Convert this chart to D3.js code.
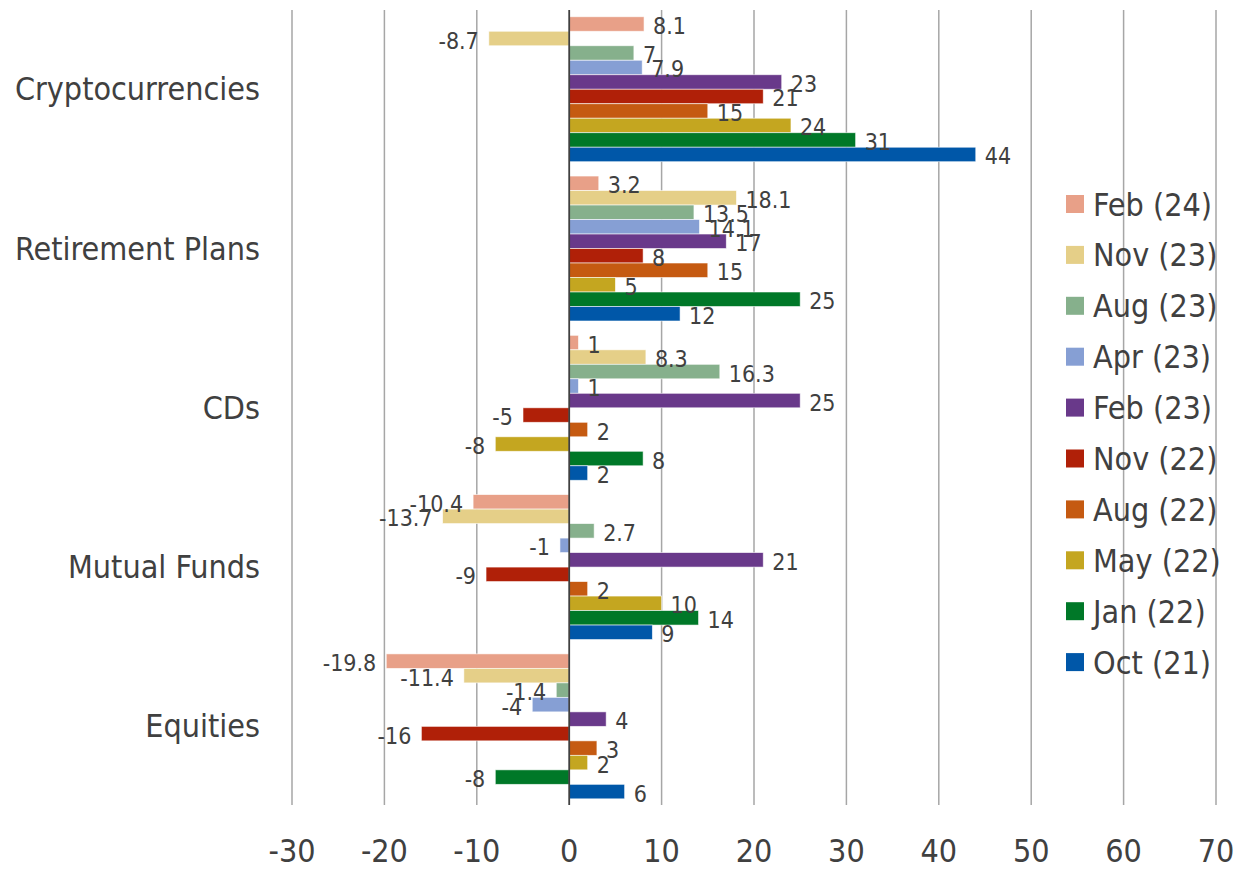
<!DOCTYPE html>
<html>
<head>
<meta charset="utf-8">
<script src="https://cdn.jsdelivr.net/npm/d3@7"></script>
<style>
  html, body { margin: 0; padding: 0; background: #fff; }
  svg text { font-family: "DejaVu Sans Condensed", "DejaVu Sans", sans-serif; font-stretch: condensed; fill: #404040; }
</style>
</head>
<body>
<svg id="chart" width="1240" height="869"></svg>
<script>
const categories = ["Cryptocurrencies", "Retirement Plans", "CDs", "Mutual Funds", "Equities"];
const seriesNames = ["Feb (24)", "Nov (23)", "Aug (23)", "Apr (23)", "Feb (23)", "Nov (22)", "Aug (22)", "May (22)", "Jan (22)", "Oct (21)"];
const seriesColors = ["#E8A088", "#E5CF88", "#86B08C", "#869FD4", "#69398A", "#B02008", "#C55A11", "#C4A620", "#007828", "#0057A8"];
// values per series, in category order
const feb24 = [8.1, 3.2, 1, -10.4, -19.8];
const nov23 = [-8.7, 18.1, 8.3, -13.7, -11.4];
const aug23 = [7, 13.5, 16.3, 2.7, -1.4];
const apr23 = [7.9, 14.1, 1, -1, -4];
const feb23 = [23, 17, 25, 21, 4];
const nov22 = [21, 8, -5, -9, -16];
const aug22 = [15, 15, 2, 2, 3];
const may22 = [24, 5, -8, 10, 2];
const jan22 = [31, 25, 8, 14, -8];
const oct21 = [44, 12, 2, 9, 6];
const seriesValues = [feb24, nov23, aug23, apr23, feb23, nov22, aug22, may22, jan22, oct21];
const xTicks = [-30, -20, -10, 0, 10, 20, 30, 40, 50, 60, 70];

const svg = d3.select("#chart");
const x = d3.scaleLinear().domain([-30, 70]).range([292, 1216]);
const y = d3.scaleBand().domain(categories).range([9.6, 806]).paddingInner(0.09).paddingOuter(0.045);
const ys = d3.scaleBand().domain(seriesNames).range([0, y.bandwidth()]);
const color = d3.scaleOrdinal().domain(seriesNames).range(seriesColors);

// gridlines
svg.append("g").selectAll("line").data(xTicks.filter(t => t !== 0)).join("line")
  .attr("x1", d => x(d)).attr("x2", d => x(d))
  .attr("y1", 10).attr("y2", 805)
  .attr("stroke", "#a6a6a6").attr("stroke-width", 1.5);

// bars
const rows = [];
seriesNames.forEach((s, i) => categories.forEach((c, j) => rows.push({ s, c, v: seriesValues[i][j] })));

svg.append("g").selectAll("rect").data(rows).join("rect")
  .attr("x", d => Math.min(x(0), x(d.v)))
  .attr("width", d => Math.abs(x(d.v) - x(0)))
  .attr("y", d => y(d.c) + ys(d.s))
  .attr("height", ys.bandwidth())
  .attr("fill", d => color(d.s))
  .attr("stroke", "rgba(255,255,255,0.7)").attr("stroke-width", 0.8);

// zero line
svg.append("line")
  .attr("x1", x(0)).attr("x2", x(0)).attr("y1", 10).attr("y2", 805)
  .attr("stroke", "#404040").attr("stroke-width", 1.8);

// data labels
svg.append("g").selectAll("text").data(rows).join("text")
  .attr("x", d => d.v >= 0 ? x(d.v) + 9 : x(d.v) - 10)
  .attr("y", d => y(d.c) + ys(d.s) + ys.bandwidth() / 2 + 10)
  .attr("text-anchor", d => d.v >= 0 ? "start" : "end")
  .attr("font-size", 23)
  .text(d => String(d.v));

// category labels
svg.append("g").selectAll("text").data(categories).join("text")
  .attr("x", 260)
  .attr("y", d => y(d) + y.bandwidth() / 2 + 11)
  .attr("text-anchor", "end")
  .attr("font-size", 32)
  .text(d => d);

// x axis tick labels
svg.append("g").selectAll("text").data(xTicks).join("text")
  .attr("x", d => x(d))
  .attr("y", 862)
  .attr("text-anchor", "middle")
  .attr("font-size", 32)
  .text(d => String(d));

// legend
const lg = svg.append("g").selectAll("g").data(seriesNames).join("g")
  .attr("transform", (d, i) => `translate(1066, ${204 + i * 50.9})`);
lg.append("rect").attr("x", 0).attr("y", -9).attr("width", 18).attr("height", 18)
  .attr("fill", d => color(d));
lg.append("text").attr("x", 27).attr("y", 11.5).attr("font-size", 32).text(d => d);
</script>
</body>
</html>
